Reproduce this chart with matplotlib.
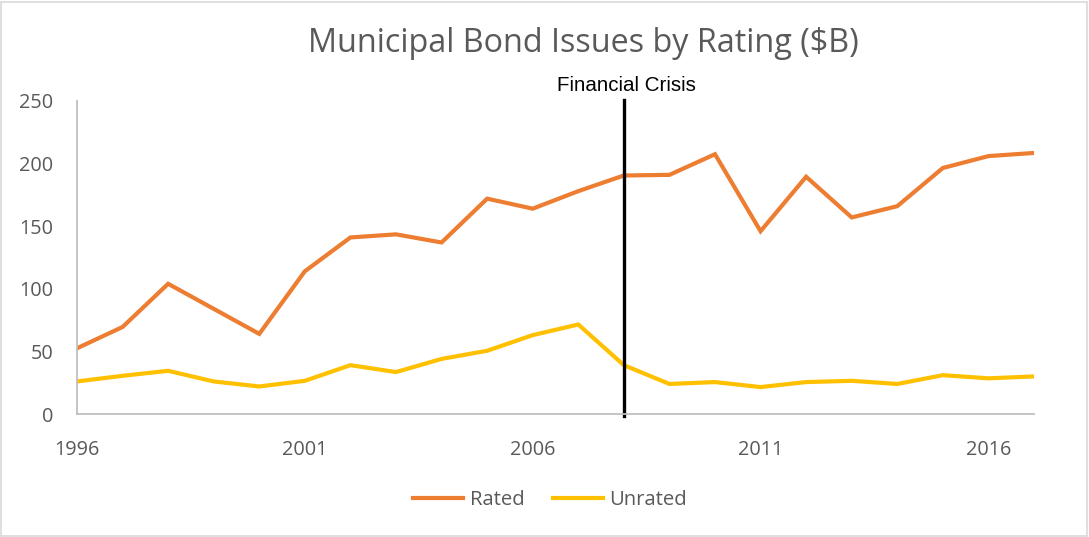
import matplotlib.pyplot as plt
from matplotlib.patches import Rectangle

# Data ($B)
years = list(range(1996, 2018))
rated = [52.5, 69.5, 104, 84, 64, 114, 141, 143.5, 137, 172, 164, 178,
         190.5, 191, 207.5, 146, 189.5, 157, 166, 196.5, 206, 208.5]
unrated = [26, 30.5, 34.5, 26, 22, 26.5, 39, 33.5, 44, 50.5, 63, 71.5,
           39, 24, 25.5, 21.5, 25.5, 26.5, 24, 31, 28.5, 30]
crisis_year = 2008
crisis_label = 'Financial Crisis'
xticks = [1996, 2001, 2006, 2011, 2016]
yticks = [0, 50, 100, 150, 200, 250]

plt.rcParams['font.family'] = ['Open Sans', 'DejaVu Sans']
text_grey = '#595959'

fig = plt.figure(figsize=(10.89, 5.37), dpi=100)
fig.patches.append(Rectangle((0.001, 0.002), 0.997, 0.995, transform=fig.transFigure,
                             fill=False, edgecolor='#d9d9d9', linewidth=1.2))
ax = fig.add_axes([77 / 1089, 1 - 414 / 537, (1034 - 77) / 1089, (414 - 101) / 537])

ax.plot(years, rated, color='#ED7D31', linewidth=3.0, label='Rated', solid_joinstyle='miter')
ax.plot(years, unrated, color='#FFC000', linewidth=3.0, label='Unrated', solid_joinstyle='miter')

# crisis marker
ax.plot([crisis_year, crisis_year], [-1.5, 250.5], color='black', linewidth=2.4, clip_on=False)
ax.text(crisis_year + 0.05, 262, crisis_label, ha='center', va='center', fontsize=14.8,
        family='Liberation Sans', color='black')

ax.set_xlim(years[0], years[-1])
ax.set_ylim(0, 250)
ax.set_xticks(xticks)
ax.set_yticks(yticks)
ax.tick_params(length=0, labelsize=14.3, labelcolor=text_grey)
ax.tick_params(axis='x', pad=19)
ax.tick_params(axis='y', pad=17)
for lbl in ax.get_yticklabels():
    lbl.set_horizontalalignment('right')

for side in ['top', 'right']:
    ax.spines[side].set_visible(False)
ax.spines['left'].set_color('#bfbfbf')
ax.spines['bottom'].set_color('#bfbfbf')
ax.spines['left'].set_linewidth(1.3)
ax.spines['bottom'].set_linewidth(1.3)

fig.text(583 / 1089, 1 - 43 / 537, 'Municipal Bond Issues by Rating ($B)', ha='center', va='center',
         fontsize=23.3, color=text_grey)

fig.legend(loc='center', bbox_to_anchor=(550 / 1089, 1 - 500 / 537), ncol=2, frameon=False,
           fontsize=14.6, labelcolor=text_grey, handlelength=2.5, columnspacing=1.4, handletextpad=0.3)

fig.savefig('out.png', dpi=100)
